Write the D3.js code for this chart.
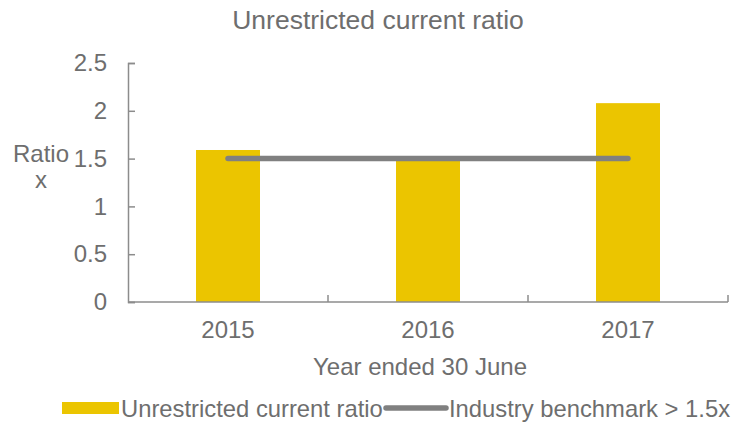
<!DOCTYPE html>
<meta charset="utf-8">
<head>
<style>
    body { margin: 0; background: #fff; }
    text { font-family: "Liberation Sans", Arial, sans-serif; fill: #6e6e6e; }
    .axis path, .axis line { stroke: #8c8c8c; stroke-width: 1.5px; fill: none; }
</style>
</head>
<body>
<script src="https://d3js.org/d3.v7.min.js"></script>
<script>
    var years = ["2015", "2016", "2017"];
    var ratio = [1.59, 1.48, 2.08];
    var benchmark = [1.5, 1.5, 1.5];
    var yTicks = [0, 0.5, 1, 1.5, 2, 2.5];

    var W = 741, H = 423;
    var plotLeft = 128, plotRight = 728, plotTop = 63, plotBottom = 302;

    var svg = d3.select("body").append("svg")
        .attr("width", W).attr("height", H);

    var x = d3.scaleBand().domain(years).range([plotLeft, plotRight]);
    var y = d3.scaleLinear().domain([0, 2.5]).range([plotBottom, plotTop]);
    var barW = x.bandwidth() * 0.32;

    // bars
    svg.selectAll(".bar")
        .data(ratio)
        .enter().append("rect")
        .attr("class", "bar")
        .attr("x", function (d, i) { return x(years[i]) + x.bandwidth() / 2 - barW / 2; })
        .attr("y", function (d) { return y(d); })
        .attr("width", barW)
        .attr("height", function (d) { return y(0) - y(d); })
        .attr("fill", "#EBC500");

    // y axis, ticks pointing inwards
    var yAxis = svg.append("g").attr("class", "axis")
        .attr("transform", "translate(" + plotLeft + ",0)")
        .call(d3.axisRight(y).tickValues(yTicks).tickSize(7).tickSizeOuter(7).tickFormat(d3.format("")));
    yAxis.selectAll("text")
        .attr("x", -21).attr("text-anchor", "end").style("font-size", "24px");

    // x axis with ticks between categories
    var xAxis = svg.append("g").attr("class", "axis")
        .attr("transform", "translate(0," + plotBottom + ")");
    xAxis.append("line").attr("x1", plotLeft).attr("x2", plotRight);
    xAxis.selectAll(".tk")
        .data(years)
        .enter().append("line")
        .attr("class", "tk")
        .attr("x1", function (d) { return x(d) + x.bandwidth(); })
        .attr("x2", function (d) { return x(d) + x.bandwidth(); })
        .attr("y1", 0).attr("y2", -7);
    xAxis.selectAll(".lbl")
        .data(years)
        .enter().append("text")
        .attr("class", "lbl")
        .attr("x", function (d) { return x(d) + x.bandwidth() / 2; })
        .attr("y", 36)
        .attr("text-anchor", "middle")
        .style("font-size", "24px")
        .text(function (d) { return d; });

    // benchmark line
    var line = d3.line()
        .x(function (d, i) { return x(years[i]) + x.bandwidth() / 2; })
        .y(function (d) { return y(d); });
    svg.append("path")
        .datum(benchmark)
        .attr("d", line)
        .attr("fill", "none")
        .attr("stroke", "#808080")
        .attr("stroke-width", 5.5)
        .attr("stroke-linecap", "round");

    // titles
    svg.append("text").attr("x", 378).attr("y", 29).attr("text-anchor", "middle")
        .style("font-size", "26.5px").text("Unrestricted current ratio");
    svg.append("text").attr("x", 420).attr("y", 375).attr("text-anchor", "middle")
        .style("font-size", "24px").text("Year ended 30 June");
    svg.append("text").attr("x", 41).attr("y", 162).attr("text-anchor", "middle")
        .style("font-size", "24px").text("Ratio");
    svg.append("text").attr("x", 41).attr("y", 188).attr("text-anchor", "middle")
        .style("font-size", "24px").text("x");

    // legend
    var lg = svg.append("g").attr("transform", "translate(0,408)");
    lg.append("rect").attr("x", 62).attr("y", -6).attr("width", 57).attr("height", 12).attr("fill", "#EBC500");
    lg.append("text").attr("x", 121).attr("y", 8.5).style("font-size", "23.8px").text("Unrestricted current ratio");
    lg.append("line").attr("x1", 386).attr("x2", 446).attr("y1", 0).attr("y2", 0)
        .attr("stroke", "#808080").attr("stroke-width", 5.5).attr("stroke-linecap", "round");
    lg.append("text").attr("x", 449).attr("y", 8.5).style("font-size", "23.8px").text("Industry benchmark > 1.5x");
</script>
</body>
